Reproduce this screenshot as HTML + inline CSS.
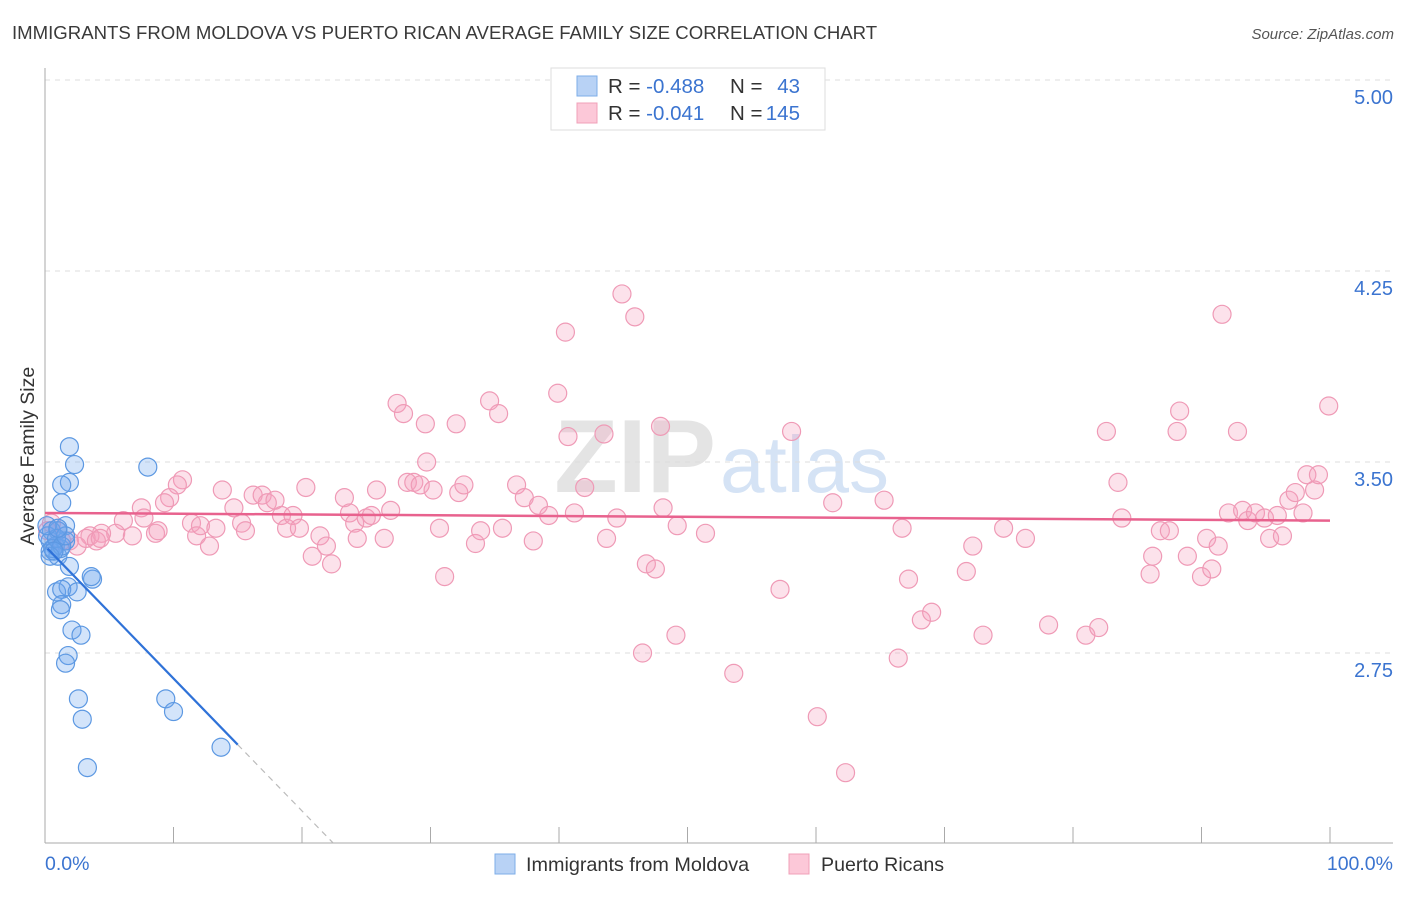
<!DOCTYPE html>
<html><head><meta charset="utf-8"><style>
body{margin:0;background:#fff;font-family:"Liberation Sans",sans-serif}
svg text{font-family:"Liberation Sans",sans-serif}
</style></head><body>
<svg id="chart" width="1406" height="892" xmlns="http://www.w3.org/2000/svg">
<text x="12" y="39" font-size="18.6" fill="#3a3a3a">IMMIGRANTS FROM MOLDOVA VS PUERTO RICAN AVERAGE FAMILY SIZE CORRELATION CHART</text>
<text x="1394" y="39" font-size="15" fill="#555" font-style="italic" text-anchor="end">Source: ZipAtlas.com</text>
<text x="716" y="492" font-size="104" text-anchor="end" fill="#e4e4e4" font-family="Liberation Serif" font-weight="bold">ZIP</text>
<text x="720" y="492" font-size="80" fill="#d5e3f5">atlas</text>
<g id="grid"></g>
<g id="axes"></g>
<g id="marks"></g>
<text transform="translate(34,456) rotate(-90)" font-size="19.5" fill="#333" text-anchor="middle">Average Family Size</text>
<g>
<rect x="551" y="68" width="274" height="62" fill="#fff" stroke="#ddd"/>
<rect x="577" y="76" width="20" height="20" fill="#b8d2f5" stroke="#7eaee8"/>
<rect x="577" y="103" width="20" height="20" fill="#fcc8d8" stroke="#f0a0b8"/>
<text x="608" y="93" font-size="20.5" fill="#333">R = <tspan fill="#3b74d0">-0.488</tspan></text>
<text x="730" y="93" font-size="20.5" fill="#333">N =</text>
<text x="800" y="93" font-size="20.5" fill="#3b74d0" text-anchor="end">43</text>
<text x="608" y="120" font-size="20.5" fill="#333">R = <tspan fill="#3b74d0">-0.041</tspan></text>
<text x="730" y="120" font-size="20.5" fill="#333">N =</text>
<text x="800" y="120" font-size="20.5" fill="#3b74d0" text-anchor="end">145</text>
</g>
<g>
<rect x="495" y="854" width="20" height="20" fill="#b8d2f5" stroke="#7eaee8"/>
<text x="526" y="871" font-size="19.8" fill="#333">Immigrants from Moldova</text>
<rect x="789" y="854" width="20" height="20" fill="#fcc8d8" stroke="#f0a0b8"/>
<text x="821" y="871" font-size="19.6" fill="#333">Puerto Ricans</text>
</g>
</svg>
<script>
const yTicks=[5.00,4.25,3.50,2.75];
const yTickLabels=["5.00","4.25","3.50","2.75"];
const xTickVals=[0,10,20,30,40,50,60,70,80,90,100];
const blueX=[1.9,2.3,1.9,1.3,1.3,8.0,1.6,0.5,1.0,0.4,0.8,0.4,1.0,1.9,3.7,3.6,1.8,0.9,1.3,2.5,1.3,1.2,2.1,2.8,1.8,1.6,2.6,9.4,10.0,2.9,13.7,3.3,0.2,0.6,1.2,1.6,0.9,0.15,1.3,0.4,1.6,0.7,1.0];
const blueY=[3.56,3.49,3.42,3.41,3.34,3.48,3.25,3.23,3.23,3.19,3.17,3.15,3.13,3.09,3.04,3.05,3.01,2.99,3.00,2.99,2.94,2.92,2.84,2.82,2.74,2.71,2.57,2.57,2.52,2.49,2.38,2.30,3.21,3.16,3.16,3.19,3.20,3.25,3.17,3.13,3.21,3.15,3.24];
const pinkX=[44.9,45.9,40.5,91.6,39.9,27.4,27.9,34.6,35.3,29.6,32.0,40.7,43.5,47.9,58.1,82.6,88.1,88.3,92.8,99.9,29.7,10.7,10.3,13.8,9.7,9.3,7.5,7.7,6.1,11.4,5.5,4.4,3.5,1.9,1.0,2.5,3.2,4.0,6.8,8.6,8.8,11.8,12.8,12.1,13.3,14.7,15.3,15.6,16.2,16.9,17.3,17.9,18.4,18.8,19.3,19.8,20.3,20.8,21.4,21.9,22.3,23.3,23.7,24.1,24.3,25.0,25.4,25.8,26.4,26.9,28.2,28.7,29.2,30.2,30.7,31.1,32.2,32.6,33.5,33.9,35.6,36.7,37.3,38.0,38.4,39.2,41.2,42.0,43.7,44.5,46.8,47.5,48.1,49.2,46.5,49.1,51.4,53.6,57.2,60.1,62.3,61.3,65.3,66.7,66.4,67.2,68.2,69.0,72.2,71.7,73.0,74.6,76.3,78.1,81.0,82.0,83.5,83.8,86.0,86.2,86.8,87.5,88.9,90.0,90.4,90.8,91.3,92.1,93.2,93.6,94.2,94.9,95.3,95.9,96.3,96.8,97.3,97.9,98.2,98.8,99.1,0.5,1.3,0.2,4.3];
const pinkY=[4.16,4.07,4.01,4.08,3.77,3.73,3.69,3.74,3.69,3.65,3.65,3.60,3.61,3.64,3.62,3.62,3.62,3.70,3.62,3.72,3.50,3.43,3.41,3.39,3.36,3.34,3.32,3.28,3.27,3.26,3.22,3.22,3.21,3.19,3.23,3.17,3.20,3.19,3.21,3.22,3.23,3.21,3.17,3.25,3.24,3.32,3.26,3.23,3.37,3.37,3.34,3.35,3.29,3.24,3.29,3.24,3.40,3.13,3.21,3.17,3.10,3.36,3.30,3.26,3.20,3.28,3.29,3.39,3.20,3.31,3.42,3.42,3.41,3.39,3.24,3.05,3.38,3.41,3.18,3.23,3.24,3.41,3.36,3.19,3.33,3.29,3.30,3.40,3.20,3.28,3.10,3.08,3.32,3.25,2.75,2.82,3.22,2.67,3.00,2.50,2.28,3.34,3.35,3.24,2.73,3.04,2.88,2.91,3.17,3.07,2.82,3.24,3.20,2.86,2.82,2.85,3.42,3.28,3.06,3.13,3.23,3.23,3.13,3.05,3.20,3.08,3.17,3.30,3.31,3.27,3.30,3.28,3.20,3.29,3.21,3.35,3.38,3.30,3.45,3.39,3.45,3.26,3.19,3.23,3.20];
const blueTrend=[3.17,-0.052];
const pinkTrend=[3.30,-0.0003];
const NS='http://www.w3.org/2000/svg';
const X=p=>45+p*12.85;
const Y=v=>80+(5-v)*254.67;
function mk(tag,attrs,parent){const e=document.createElementNS(NS,tag);for(const k in attrs)e.setAttribute(k,attrs[k]);parent.appendChild(e);return e;}
const grid=document.getElementById('grid'),axes=document.getElementById('axes'),marks=document.getElementById('marks');
yTicks.forEach((t,i)=>{
 const l=mk('line',{x1:45,x2:1393,y1:Y(t),y2:Y(t),stroke:'#ddd','stroke-dasharray':'5,5'},grid);
 
 
 const tx=mk('text',{x:1393,y:Y(t)+24,'font-size':20,fill:'#3b74d0','text-anchor':'end'},grid);
 tx.textContent=yTickLabels[i];
 
 
});
const ya=mk('line',{x1:45,x2:45,y1:68,y2:843,stroke:'#aaa'},axes);


const xa=mk('line',{x1:45,x2:1393,y1:843,y2:843,stroke:'#aaa'},axes);


xTickVals.forEach(v=>{
 const t=mk('line',{x1:X(v),x2:X(v),y1:827,y2:843,stroke:'#aaa'},axes);
 
 
});
const xl0=mk('text',{x:45,y:870,'font-size':19.5,fill:'#3b74d0'},axes);xl0.textContent='0.0%';


const xl1=mk('text',{x:1393,y:870,'font-size':19.5,fill:'#3b74d0','text-anchor':'end'},axes);xl1.textContent='100.0%';


pinkX.forEach((x,i)=>{
 const c=mk('circle',{cx:X(x),cy:Y(pinkY[i]),r:9,fill:'rgba(245,160,190,0.3)',stroke:'#ef9ab6','stroke-width':1.2},marks);
 
 
});
blueX.forEach((x,i)=>{
 const c=mk('circle',{cx:X(x),cy:Y(blueY[i]),r:9,fill:'rgba(110,165,240,0.3)',stroke:'#5c98e2','stroke-width':1.2},marks);
 
 
});
const pl=mk('line',{x1:X(0),x2:X(100),y1:Y(pinkTrend[0]),y2:Y(pinkTrend[0]+pinkTrend[1]*100),stroke:'#e8628e','stroke-width':2.5},marks);


const bl=mk('line',{x1:X(0.2),x2:X(15),y1:Y(blueTrend[0]+blueTrend[1]*0.2),y2:Y(blueTrend[0]+blueTrend[1]*15),stroke:'#2f72d8','stroke-width':2.2},marks);


const bd=mk('line',{x1:X(15),x2:X(22.4),y1:Y(blueTrend[0]+blueTrend[1]*15),y2:Y(blueTrend[0]+blueTrend[1]*22.4),stroke:'#bbb','stroke-width':1.2,'stroke-dasharray':'6,5'},marks);


</script>
</body></html>
